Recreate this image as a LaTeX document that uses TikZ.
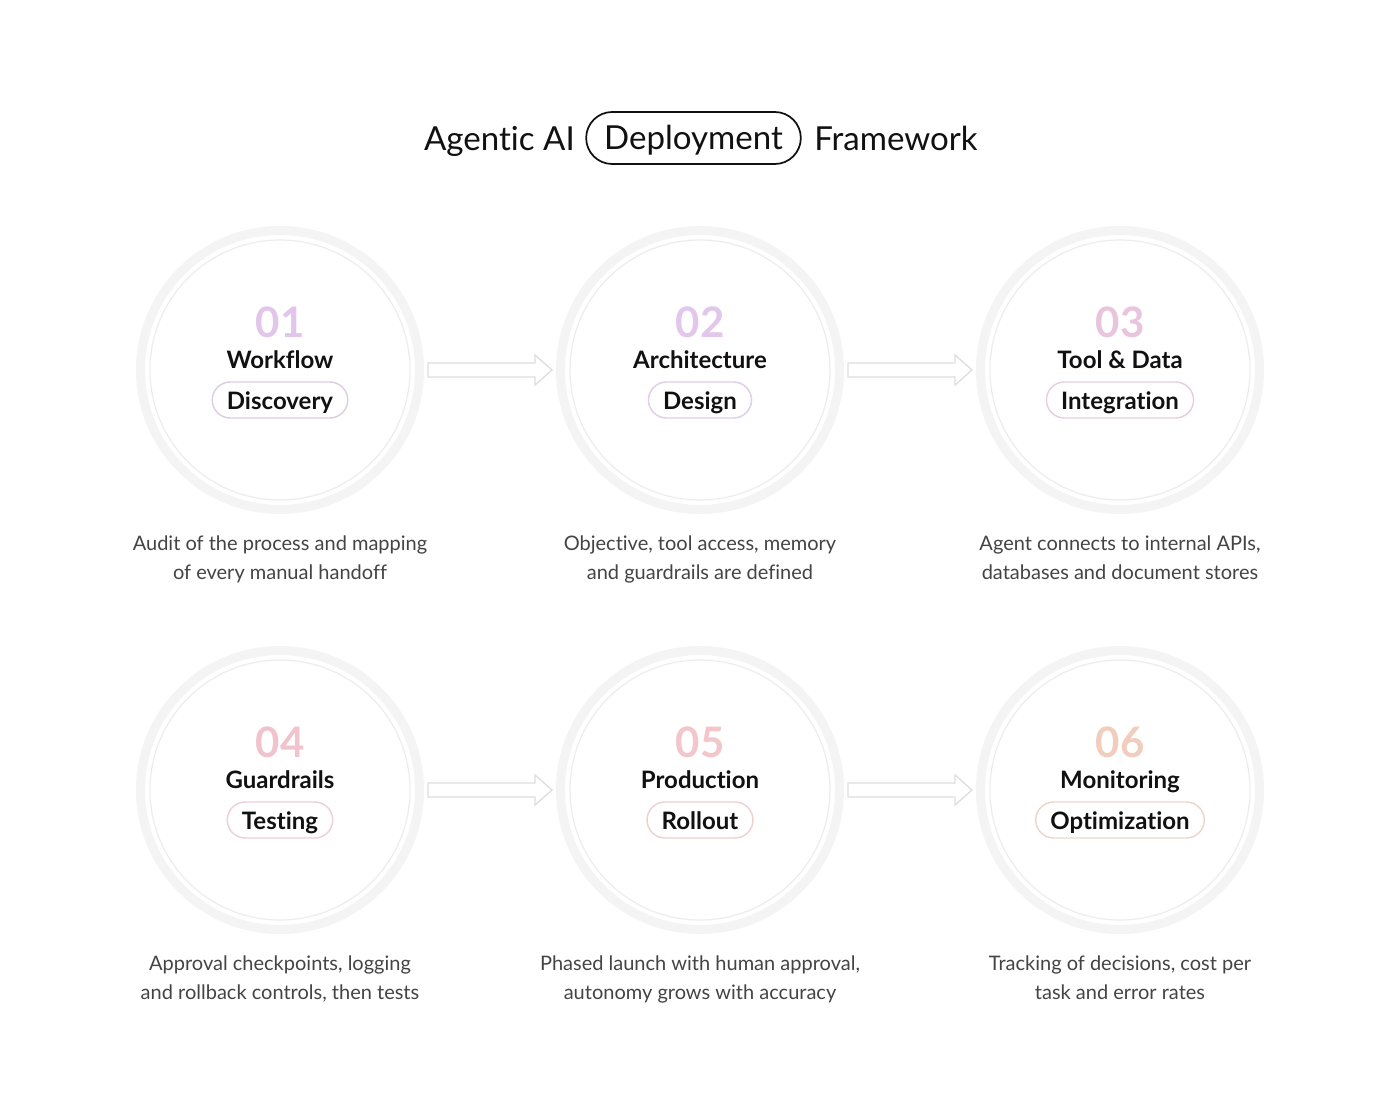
\documentclass[tikz,border=0pt]{standalone}
\usepackage{fontspec}
\setmainfont{Lato}[Ligatures=NoCommon]
\usetikzlibrary{calc}
\definecolor{ringgray}{HTML}{F4F4F4}
\definecolor{thingray}{HTML}{EDEDED}
\definecolor{arrgray}{HTML}{DEDEDE}
\definecolor{desc}{HTML}{444444}
\definecolor{ink}{HTML}{111111}
\definecolor{nA}{HTML}{E2C5EA}
\definecolor{nB}{HTML}{E2C6EC}
\definecolor{nC}{HTML}{E9C5DD}
\definecolor{nD}{HTML}{F1C4CD}
\definecolor{nE}{HTML}{F2C6CA}
\definecolor{nF}{HTML}{F2CDBD}
\definecolor{pA}{HTML}{DDCDE3}
\definecolor{pB}{HTML}{DFCFE6}
\definecolor{pC}{HTML}{E6D0DD}
\definecolor{pD}{HTML}{EDD0D5}
\definecolor{pE}{HTML}{EDD2D3}
\definecolor{pF}{HTML}{EDD8CE}
\tikzset{
  ring/.style={circle, draw=ringgray, line width=6.75pt, minimum size=209.25pt, inner sep=0pt},
  thin/.style={draw=thingray, line width=0.9pt},
  numtxt/.style={anchor=base, inner sep=0pt, font=\bfseries\fontsize{31.5}{34}\selectfont},
  labtxt/.style={anchor=base, inner sep=0pt, font=\bfseries\fontsize{18}{20}\selectfont, text=ink},
  pill/.style={draw=#1, line width=1.1pt, rounded corners=13.5pt, minimum height=27pt, inner xsep=11pt, inner ysep=0pt, text height=16.5pt, text depth=3pt, fill=white, font=\bfseries\fontsize{18}{20}\selectfont, text=ink},
  desctxt/.style={anchor=base, inner sep=0pt, text=desc, font=\fontsize{15}{21.75}\selectfont},
  blockarrow/.style={draw=arrgray, line width=1pt, fill=white, line join=miter},
  titletxt/.style={font=\fontsize{24.8}{28}\selectfont, text=ink, inner sep=0pt},
  titlepill/.style={draw=ink, line width=1.3pt, rounded corners=19.5pt, minimum height=39pt, minimum width=161pt, text height=21.5pt, text depth=3.5pt, font=\fontsize{24.8}{28}\selectfont, text=ink, inner sep=0pt}
}
\begin{document}
\begin{tikzpicture}[x=0.75pt,y=-0.75pt]
\useasboundingbox[fill=white] (0,0) rectangle (1400,1120);

% title
\node[titlepill] (tp) at (693.5,138) {Deployment};
\node[titletxt, anchor=base east] (tl) at (575,150.5) {Agentic AI};
\node[titletxt, anchor=base west] (tr) at (814,150.5) {Framework};

% circles
\foreach \n/\x/\y in {c1/280/370, c2/700/370, c3/1120/370, c4/280/790, c5/700/790, c6/1120/790}{
  \node[ring] (\n) at (\x,\y) {};
  \draw[thin] (\n.center) circle (130);
}

% step contents
\foreach \n/\num/\col/\pcol/\lab/\pl/\da/\db in {
  c1/01/nA/pA/Workflow/Discovery/{Audit of the process and mapping}/{of every manual handoff},
  c2/02/nB/pB/Architecture/Design/{Objective, tool access, memory}/{and guardrails are defined},
  c3/03/nC/pC/{Tool \& Data}/Integration/{Agent connects to internal APIs,}/{databases and document stores},
  c4/04/nD/pD/Guardrails/Testing/{Approval checkpoints, logging}/{and rollback controls, then tests},
  c5/05/nE/pE/Production/Rollout/{Phased launch with human approval,}/{autonomy grows with accuracy},
  c6/06/nF/pF/Monitoring/Optimization/{Tracking of decisions, cost per}/{task and error rates}}{
  \node[numtxt, text=\col] (\n num) at ($(\n.center)+(0,-33)$) {\num};
  \node[labtxt] (\n lab) at ($(\n.center)+(0,-2)$) {\lab};
  \node[pill=\pcol] (\n pill) at ($(\n.center)+(0,30)$) {\pl};
  \node[desctxt] (\n da) at ($(\n.center)+(0,180)$) {\da};
  \node[desctxt] (\n db) at ($(\n.center)+(0,209)$) {\db};
}

% arrows
\foreach \a/\b in {c1/c2, c2/c3, c4/c5, c5/c6}{
  \coordinate (\a s) at ($(\a.east)+(4,0)$);
  \coordinate (\a e) at ($(\b.west)+(-4,0)$);
  \draw[blockarrow] ($(\a s)+(0,-7)$) -- ($(\a e)+(-17,-7)$) -- ($(\a e)+(-17,-15)$) -- (\a e)
     -- ($(\a e)+(-17,15)$) -- ($(\a e)+(-17,7)$) -- ($(\a s)+(0,7)$) -- cycle;
}
\end{tikzpicture}
\end{document}
